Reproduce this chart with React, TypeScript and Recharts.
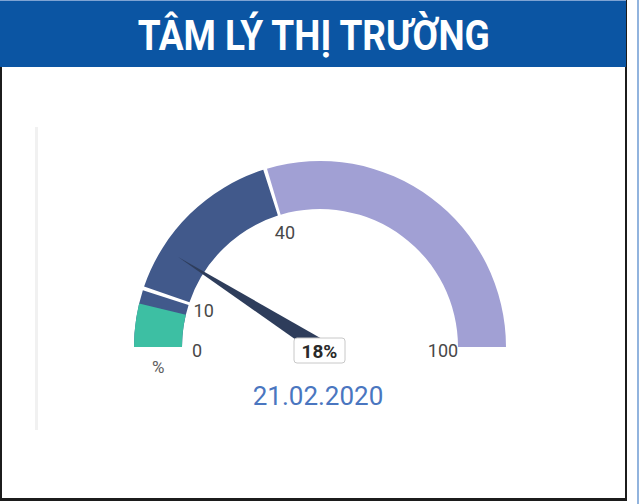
import { PieChart, Pie, Cell } from "recharts"

// gauge bands: 0-10, 10-40, 40-100
const bandLabels = ["0", "10", "40", "100"]
const bandValues = [10, 30, 60]
const bandColors = ["#41598b", "#41598b", "#a1a0d4"]
// green low-end overlay inside the first band
const greenValues = [7.5, 92.5]
const needleValues = [18, 82]
const currentLabel = "18%"
const unitLabel = "%"
const dateLabel = "21.02.2020"
const title = "TÂM LÝ THỊ TRƯỜNG"

const bandData = bandValues.map((value, i) => ({ name: bandLabels[i], value }))
const greenData = greenValues.map((value, i) => ({ name: i === 0 ? "low" : "rest", value }))
const needleData = needleValues.map((value, i) => ({ name: i === 0 ? "value" : "rest", value }))

const RAD = Math.PI / 180
const polar = (cx: number, cy: number, r: number, a: number) => ({
  x: cx + r * Math.cos(-a * RAD),
  y: cy + r * Math.sin(-a * RAD),
})

const CX = 320
const CY = 280
const INNER = 138
const OUTER = 186
const FONT = "Roboto, 'Noto Sans', sans-serif"

function BandTick(props: any) {
  const { cx, cy, startAngle, endAngle, index } = props
  const items = [{ a: startAngle, t: bandLabels[index] }]
  if (index === bandValues.length - 1) items.push({ a: endAngle, t: bandLabels[index + 1] })
  const unit = polar(cx, cy, 163, startAngle + 7)
  return (
    <g>
      {items.map((it) => {
        const p = polar(cx, cy, 123, it.a)
        return (
          <text
            key={it.t}
            x={p.x}
            y={p.y + 3}
            textAnchor="middle"
            dominantBaseline="central"
            fontSize={18}
            fill="#484848"
            fontFamily={FONT}
          >
            {it.t}
          </text>
        )
      })}
      {index === 0 && (
        <text
          x={unit.x}
          y={unit.y}
          textAnchor="middle"
          dominantBaseline="central"
          fontSize={17}
          fill="#606060"
          fontFamily={FONT}
        >
          {unitLabel}
        </text>
      )}
    </g>
  )
}

function Needle(props: any) {
  const { cx, cy, endAngle, index } = props
  if (index !== 0) return null
  const tip = polar(cx, cy, 168, endAngle)
  const b1 = polar(cx, cy, 8, endAngle + 90)
  const b2 = polar(cx, cy, 8, endAngle - 90)
  return (
    <g>
      <polygon
        points={`${tip.x},${tip.y} ${b1.x},${b1.y} ${b2.x},${b2.y}`}
        fill="#2e3d5b"
      />
      <rect
        x={cx - 26}
        y={cy - 9}
        width={51}
        height={25}
        rx={3}
        fill="#fff"
        stroke="#c8c8c8"
        strokeWidth={1}
      />
      <text
        x={cx - 0.5}
        y={cy + 4}
        textAnchor="middle"
        dominantBaseline="central"
        fontSize={19}
        fontWeight={700}
        fill="#2a2a2a"
        fontFamily={FONT}
      >
        {currentLabel}
      </text>
      <text
        x={cx - 2}
        y={cy + 49}
        textAnchor="middle"
        dominantBaseline="central"
        fontSize={26}
        fill="#4a76c0"
        fontFamily={FONT}
      >
        {dateLabel}
      </text>
    </g>
  )
}

export default function App() {
  return (
    <div
      style={{
        position: "absolute",
        left: 0,
        top: 0,
        width: 640,
        height: 504,
        background: "#fff",
        overflow: "hidden",
      }}
    >
      <div
        style={{
          position: "absolute",
          left: 0,
          top: 0,
          width: 623,
          height: 498,
          borderLeft: "2px solid #1c1c1c",
          borderRight: "2px solid #1c1c1c",
          borderBottom: "3px solid #1c1c1c",
        }}
      />
      <div
        style={{
          position: "absolute",
          left: 0,
          top: 0,
          width: 626,
          height: 67,
          background: "#0b55a3",
          borderTop: "1px solid #7ea3d3",
          boxSizing: "border-box",
          display: "flex",
          justifyContent: "center",
          alignItems: "center",
        }}
      >
        <span
          style={{
            color: "#fff",
            fontFamily: FONT,
            fontWeight: 700,
            fontSize: 43,
            lineHeight: "43px",
            display: "inline-block",
            transform: "scaleX(0.86)",
            whiteSpace: "nowrap",
            marginTop: 2,
            marginLeft: 2,
          }}
        >
          {title}
        </span>
      </div>
      <div
        style={{
          position: "absolute",
          left: 637,
          top: 0,
          width: 2,
          height: 504,
          background: "#4a82c8",
          opacity: 0.6,
        }}
      />
      <div
        style={{
          position: "absolute",
          left: 35,
          top: 127,
          width: 3,
          height: 303,
          background: "#f1f1f1",
        }}
      />
      <div style={{ position: "absolute", left: 0, top: 67 }}>
        <PieChart width={626} height={400} margin={{ top: 0, right: 0, bottom: 0, left: 0 }}>
          <Pie
            data={bandData}
            dataKey="value"
            cx={CX}
            cy={CY}
            startAngle={180}
            endAngle={0}
            innerRadius={INNER}
            outerRadius={OUTER}
            paddingAngle={1.2}
            stroke="none"
            label={BandTick}
            labelLine={false}
            isAnimationActive={false}
          >
            {bandData.map((d, i) => (
              <Cell key={d.name} fill={bandColors[i]} />
            ))}
          </Pie>
          <Pie
            data={greenData}
            dataKey="value"
            cx={CX}
            cy={CY}
            startAngle={180}
            endAngle={0}
            innerRadius={INNER}
            outerRadius={OUTER}
            stroke="none"
            isAnimationActive={false}
          >
            {greenData.map((d, i) => (
              <Cell key={d.name} fill={i === 0 ? "#3dbfa3" : "transparent"} />
            ))}
          </Pie>
          <Pie
            data={needleData}
            dataKey="value"
            cx={CX}
            cy={CY}
            startAngle={180}
            endAngle={0}
            innerRadius={0}
            outerRadius={1}
            stroke="none"
            fill="transparent"
            label={Needle}
            labelLine={false}
            isAnimationActive={false}
          />
        </PieChart>
      </div>
    </div>
  )
}
